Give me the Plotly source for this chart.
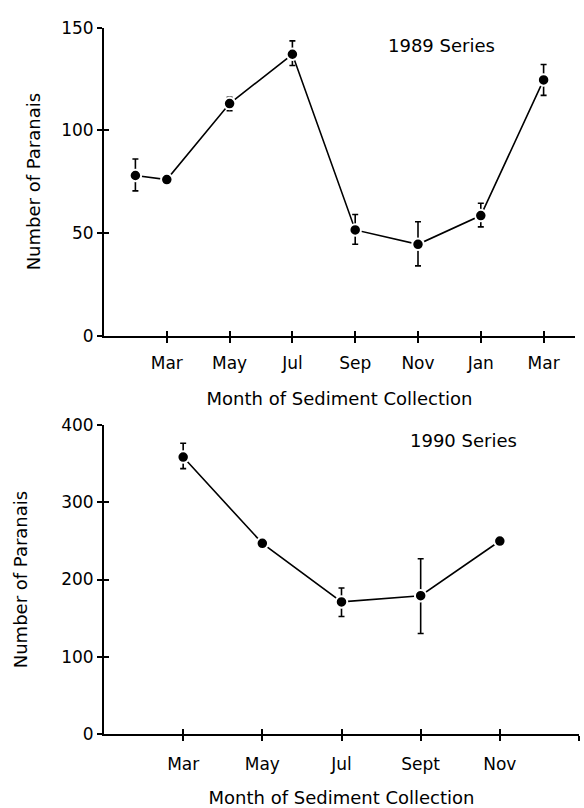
import plotly.graph_objects as go

# ---------------- data ----------------
# 1989 series (x = month index from axis origin)
x89 = [1, 2, 4, 6, 8, 10, 12, 14]
y89 = [78, 76, 113, 137, 51.5, 44.5, 58.5, 124.5]
e89_plus = [8, 0, 3, 6.5, 7.5, 11, 6, 7.5]
e89_minus = [7.5, 0, 3.5, 5.5, 7, 10.5, 5.5, 7.5]
tickvals89 = [2, 4, 6, 8, 10, 12, 14]
ticktext89 = ["Mar", "May", "Jul", "Sep", "Nov", "Jan", "Mar"]

# 1990 series
x90 = [1, 2, 3, 4, 5]
y90 = [359, 247, 171, 179, 250]
e90_plus = [18, 0, 18, 48, 0]
e90_minus = [15, 0, 19, 49, 0]
tickvals90 = [1, 2, 3, 4, 5, 6]
ticktext90 = ["Mar", "May", "Jul", "Sept", "Nov", ""]

ytick89 = [0, 50, 100, 150]
ytick90 = [0, 100, 200, 300, 400]

# ---------------- style ----------------
W, H = 584, 808
FONT = "DejaVu Sans"
TICKFONT = dict(family=FONT, size=17, color="black")
TITLEFONT = dict(family=FONT, size=18, color="black")

def px_x(p):
    return p / W

def px_y(p):
    return 1 - p / H

marker = dict(size=11.5, color="black", line=dict(color="white", width=2))

fig = go.Figure()
fig.add_trace(go.Scatter(
    x=x89, y=y89, mode="lines+markers", xaxis="x", yaxis="y",
    line=dict(color="black", width=1.6), marker=marker,
    error_y=dict(type="data", symmetric=False, array=e89_plus,
                 arrayminus=e89_minus, color="black", thickness=1.6, width=3),
    showlegend=False, hoverinfo="skip"))
fig.add_trace(go.Scatter(
    x=x90, y=y90, mode="lines+markers", xaxis="x2", yaxis="y2",
    line=dict(color="black", width=1.6), marker=marker,
    error_y=dict(type="data", symmetric=False, array=e90_plus,
                 arrayminus=e90_minus, color="black", thickness=1.6, width=3),
    showlegend=False, hoverinfo="skip"))
# empty traces so the overlay axes (inner half of crossing ticks) get drawn
fig.add_trace(go.Scatter(x=[], y=[], xaxis="x3", yaxis="y3",
                         showlegend=False, hoverinfo="skip"))
fig.add_trace(go.Scatter(x=[], y=[], xaxis="x4", yaxis="y4",
                         showlegend=False, hoverinfo="skip"))

common_x = dict(showgrid=False, zeroline=False, showline=True, linecolor="black",
                linewidth=2, ticks="outside", ticklen=5, tickwidth=1.5,
                tickcolor="black", tickfont=TICKFONT, tickmode="array")
common_y = dict(showgrid=False, zeroline=False, showline=True, linecolor="black",
                linewidth=2, ticks="outside", ticklen=5, tickwidth=1.5,
                tickcolor="black", tickfont=TICKFONT, tickmode="array")

dom_x1 = [px_x(104), px_x(575)]
dom_y1 = [px_y(334), px_y(18)]
dom_x2 = [px_x(104), px_x(579)]
dom_y2 = [px_y(742), px_y(426)]

inner = dict(tickmode="array", ticks="inside", ticklen=5, tickwidth=1.5,
             tickcolor="black", showticklabels=False, showgrid=False,
             zeroline=False, showline=False)

fig.update_layout(
    width=W, height=H, autosize=False,
    margin=dict(l=0, r=0, t=0, b=0),
    paper_bgcolor="white", plot_bgcolor="white",
    xaxis=dict(common_x, domain=dom_x1, range=[0, 15], anchor="y",
               tickvals=tickvals89, ticktext=ticktext89, ticklabelstandoff=6,
               title=dict(text="Month of Sediment Collection", font=TITLEFONT, standoff=20)),
    yaxis=dict(common_y, domain=dom_y1, range=[0, 150], anchor="x",
               tickvals=ytick89, ticktext=[str(v) for v in ytick89],
               title=dict(text="Number of Paranais", font=TITLEFONT, standoff=16)),
    xaxis2=dict(common_x, domain=dom_x2, range=[0, 6], anchor="y2",
                tickvals=tickvals90, ticktext=ticktext90, ticklabelstandoff=9,
                title=dict(text="Month of Sediment Collection", font=TITLEFONT, standoff=21)),
    yaxis2=dict(common_y, domain=dom_y2, range=[0, 400], anchor="x2",
                tickvals=ytick90, ticktext=[str(v) for v in ytick90],
                title=dict(text="Number of Paranais", font=TITLEFONT, standoff=29)),
    xaxis3=dict(inner, overlaying="x", anchor="y3", range=[0, 15], domain=dom_x1,
                tickvals=tickvals89, side="bottom"),
    yaxis3=dict(inner, overlaying="y", anchor="x3", range=[0, 150], domain=dom_y1,
                tickvals=ytick89, side="left"),
    xaxis4=dict(inner, overlaying="x2", anchor="y4", range=[0, 6], domain=dom_x2,
                tickvals=tickvals90, side="bottom"),
    yaxis4=dict(inner, overlaying="y2", anchor="x4", range=[0, 400], domain=dom_y2,
                tickvals=ytick90, side="left"),
    annotations=[
        dict(text="1989 Series", xref="paper", yref="paper", x=px_x(441), y=px_y(36),
             showarrow=False, font=TITLEFONT, xanchor="center", yanchor="middle"),
        dict(text="1990 Series", xref="paper", yref="paper", x=px_x(463), y=px_y(441),
             showarrow=False, font=TITLEFONT, xanchor="center", yanchor="middle"),
    ],
)

fig.write_html("out.html")
